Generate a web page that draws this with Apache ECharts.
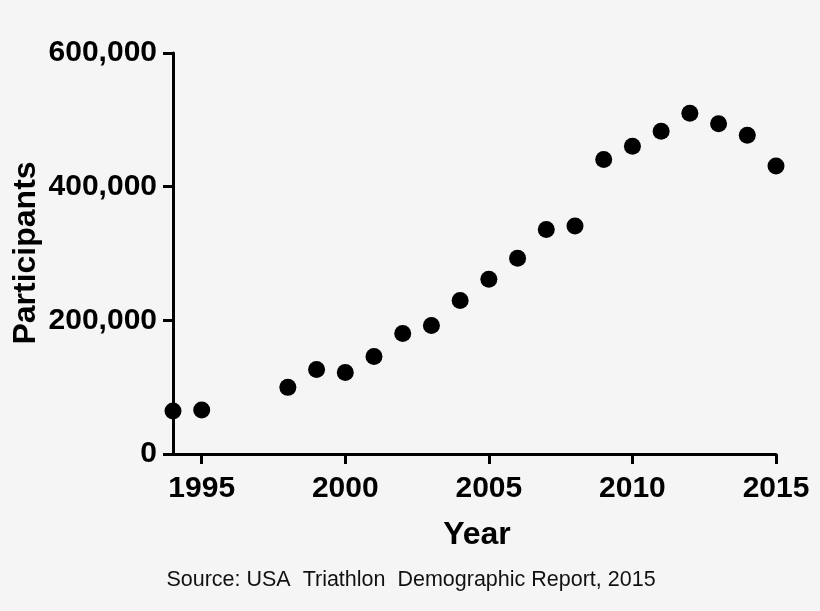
<!DOCTYPE html>
<html>
<head>
<meta charset="utf-8">
<script src="https://cdn.jsdelivr.net/npm/echarts@6/dist/echarts.min.js"></script>
<style>
html,body{margin:0;padding:0;background:#f5f5f5;}
#chart{width:820px;height:611px;}
</style>
</head>
<body>
<div id="chart"></div>
<script>
const years = [1994, 1995, 1998, 1999, 2000, 2001, 2002, 2003, 2004, 2005, 2006, 2007, 2008, 2009, 2010, 2011, 2012, 2013, 2014, 2015];
const participants = [64300, 65800, 99700, 126600, 122100, 146000, 180400, 192300, 229700, 261600, 293000, 335900, 341300, 440500, 460400, 482800, 509700, 494300, 476800, 431000];
const xTickLabels = [1995, 2000, 2005, 2010, 2015];
const yTickLabels = [0, 200000, 400000, 600000];
const xTitle = 'Year';
const yTitle = 'Participants';
const sourceText = 'Source: USA  Triathlon  Demographic Report, 2015';

const FONT = '"Liberation Sans", Arial, Helvetica, sans-serif';
const chart = echarts.init(document.getElementById('chart'));
const fmt = v => String(v).replace(/\B(?=(\d{3})+(?!\d))/g, ',');

chart.setOption({
  backgroundColor: '#f5f5f5',
  animation: false,
  grid: { left: 173, right: 44, top: 53, bottom: 157, containLabel: false, outerBoundsMode: 'none' },
  xAxis: {
    type: 'value',
    min: 1994, max: 2015,
    splitLine: { show: false },
    axisLine: { show: true, onZero: false, lineStyle: { color: '#000', width: 3 } },
    axisTick: { show: true, length: 10, lineStyle: { color: '#000', width: 3 }, customValues: xTickLabels },
    axisLabel: { customValues: xTickLabels, color: '#000', fontSize: 30, fontWeight: 'bold', fontFamily: FONT, margin: 20, formatter: v => String(v) }
  },
  yAxis: {
    type: 'value',
    min: yTickLabels[0], max: yTickLabels[yTickLabels.length - 1],
    interval: 200000,
    splitLine: { show: false },
    axisLine: { show: true, onZero: false, lineStyle: { color: '#000', width: 3 } },
    axisTick: { show: true, length: 10, lineStyle: { color: '#000', width: 3 } },
    axisLabel: { color: '#000', fontSize: 30, fontWeight: 'bold', fontFamily: FONT, margin: 16, formatter: v => fmt(v) }
  },
  series: [{
    type: 'scatter',
    clip: false,
    symbol: 'circle',
    symbolSize: 17,
    itemStyle: { color: '#000', opacity: 1 },
    emphasis: { disabled: true },
    data: years.map((y, i) => [y, participants[i]])
  }],
  graphic: [
    { type: 'text', x: 26, y: 253, rotation: Math.PI / 2,
      style: { text: yTitle, fill: '#000', font: 'bold 32px ' + FONT, textAlign: 'center', textVerticalAlign: 'middle' } },
    { type: 'text', x: 477, y: 535,
      style: { text: xTitle, fill: '#000', font: 'bold 32px ' + FONT, textAlign: 'center', textVerticalAlign: 'middle' } },
    { type: 'text', x: 411, y: 580,
      style: { text: sourceText, fill: '#111', font: '21.5px ' + FONT, textAlign: 'center', textVerticalAlign: 'middle' } }
  ]
});
</script>
</body>
</html>
